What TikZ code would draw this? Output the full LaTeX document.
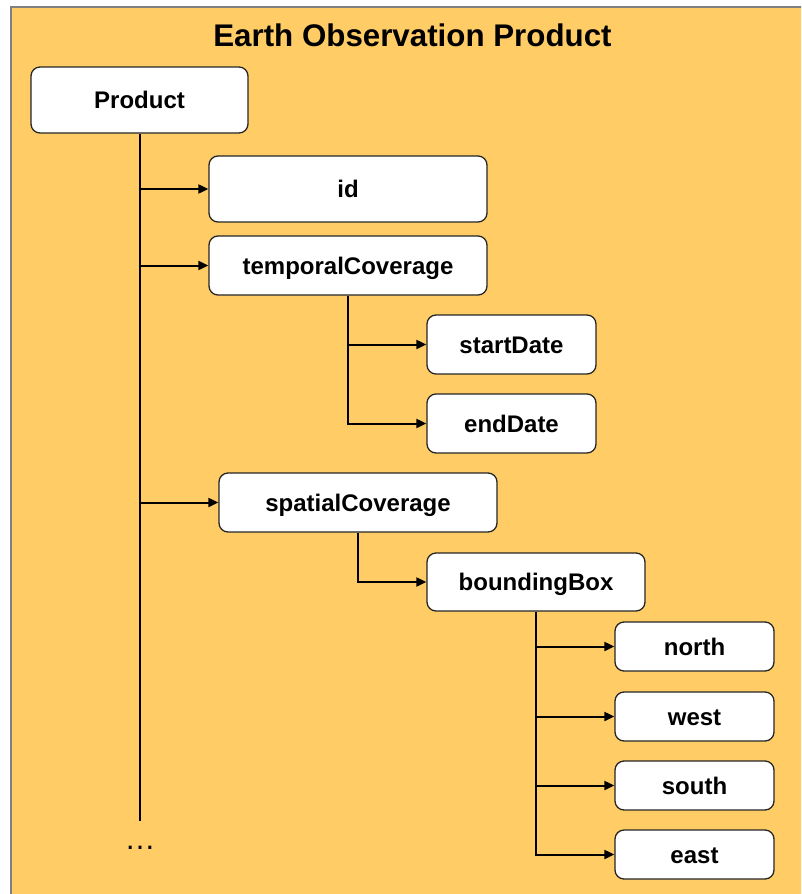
\documentclass[tikz,border=0pt]{standalone}
\usepackage{fontspec}
\setmainfont{Liberation Sans}
\usetikzlibrary{arrows.meta}
\definecolor{bgorange}{RGB}{255,204,102}
\tikzset{
  box/.style={draw=black!85, fill=white, rounded corners=9pt, line width=1.3pt,
    font=\bfseries\fontsize{24}{28}\selectfont, inner sep=0pt,
    text height=17pt, text depth=0pt},
  conn/.style={line width=2pt, black},
  arr/.style={conn, -{Triangle[length=10pt,width=9pt]}},
}
\begin{document}
\begin{tikzpicture}[x=1pt,y=-1pt]
\useasboundingbox (0,0) rectangle (801,894);
\begin{scope}
\clip (0,0) rectangle (801,894);
\fill[white] (0,0) rectangle (801,894);
\draw[fill=bgorange, draw=black!50, line width=1.5pt] (11,7) rectangle (810,905);
\end{scope}
\node[anchor=base, font=\bfseries\fontsize{31.3}{36}\selectfont] (title) at (412.5,46) {Earth Observation Product};

\node[box, minimum width=217pt, minimum height=66pt] (P) at (139.5,100) {Product};
\node[box, minimum width=278pt, minimum height=66pt] (id) at (348,189) {id};
\node[box, minimum width=278pt, minimum height=59pt] (tc) at (348,265.5) {temporalCoverage};
\node[box, minimum width=169pt, minimum height=59pt] (sd) at (511.5,344.5) {startDate};
\node[box, minimum width=169pt, minimum height=59pt] (ed) at (511.5,423.5) {endDate};
\node[box, minimum width=278pt, minimum height=59pt] (sc) at (358,502.5) {spatialCoverage};
\node[box, minimum width=218pt, minimum height=58pt] (bb) at (536,582) {boundingBox};
\node[box, minimum width=159pt, minimum height=49pt] (n) at (694.5,646.5) {north};
\node[box, minimum width=159pt, minimum height=49pt] (w) at (694.5,716.5) {west};
\node[box, minimum width=159pt, minimum height=49pt] (s) at (694.5,785.5) {south};
\node[box, minimum width=159pt, minimum height=49pt] (e) at (694.5,854.5) {east};

\coordinate (trunkend) at (139.5,821);
\draw[conn] (P.south) -- (trunkend);
\draw[arr] (P.south |- id.west) -- (id.west);
\draw[arr] (P.south |- tc.west) -- (tc.west);
\draw[arr] (P.south |- sc.west) -- (sc.west);

\draw[arr] (tc.south) |- (ed.west);
\draw[arr] (tc.south |- sd.west) -- (sd.west);

\draw[arr] (sc.south) |- (bb.west);

\draw[arr] (bb.south) |- (e.west);
\draw[arr] (bb.south |- n.west) -- (n.west);
\draw[arr] (bb.south |- w.west) -- (w.west);
\draw[arr] (bb.south |- s.west) -- (s.west);

\node[anchor=base, font=\fontsize{31}{36}\selectfont] (dots) at (140,849) {…};
\end{tikzpicture}
\end{document}
